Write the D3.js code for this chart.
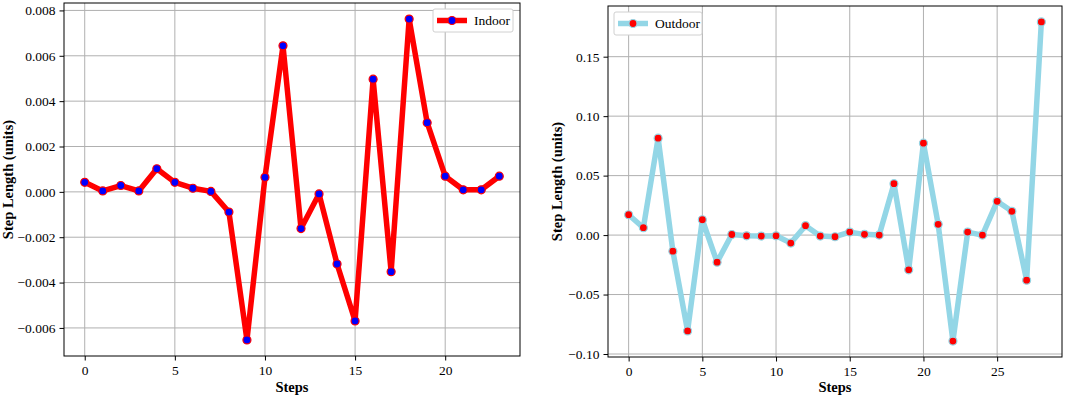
<!DOCTYPE html>
<html>
<head>
<meta charset="utf-8">
<script src="https://cdn.jsdelivr.net/npm/d3@7"></script>
<style>
  body { margin: 0; background: #fff; }
  svg { display: block; font-family: "Liberation Serif", "Times New Roman", serif; }
  .grid line { stroke: #b0b0b0; stroke-width: 1; }
  .axis text { font-size: 13.5px; fill: #000; font-family: "Liberation Serif", serif; }
  .axis path, .axis line { stroke: #000; stroke-width: 1; }
  .axisLabel { font-size: 14.5px; font-weight: bold; fill: #000; }
  .legend-box { fill: #fff; stroke: #d0d0d0; stroke-width: 1; }
  .legend-text { font-size: 13.5px; fill: #000; }
</style>
</head>
<body>
<div id="chart"></div>
<script>
// Step length per step, two panels: Indoor (left) and Outdoor (right)

const indoorSteps  = d3.range(0, 24);
const indoorValues = [0.00042, 0.00004, 0.00028, 0.00004, 0.00102, 0.00042, 0.00016, 0.00002,
                      -0.00089, -0.00653, 0.00064, 0.00644, -0.00162, -0.00009, -0.00318, -0.00569,
                      0.00497, -0.00352, 0.00762, 0.00305, 0.00069, 0.00009, 0.00009, 0.00069];
const indoorYTicks = [-0.006, -0.004, -0.002, 0, 0.002, 0.004, 0.006, 0.008];
const indoorXTicks = [0, 5, 10, 15, 20];

const outdoorSteps  = d3.range(0, 29);
const outdoorValues = [0.0171, 0.0062, 0.0815, -0.0135, -0.0806, 0.0129, -0.0228, 0.0005,
                       -0.0006, -0.0008, -0.0006, -0.0067, 0.0079, -0.0008, -0.0014, 0.0025,
                       0.0006, 0.0, 0.0432, -0.0292, 0.0773, 0.0090, -0.0891, 0.0025,
                       0.0, 0.0284, 0.0200, -0.0379, 0.1792];
const outdoorYTicks = [-0.10, -0.05, 0, 0.05, 0.10, 0.15];
const outdoorXTicks = [0, 5, 10, 15, 20, 25];

const W = 1065, H = 397;

const svg = d3.select("#chart").append("svg")
  .attr("width", W)
  .attr("height", H);

// matplotlib-like 5% padding on each side
function padded(ext) {
  const pad = (ext[1] - ext[0]) * 0.05;
  return [ext[0] - pad, ext[1] + pad];
}

function drawPanel(cfg) {
  const { box, steps, values, xTicks, yTicks, yFmt, lineColor, dotFill, dotStroke, label, legend } = cfg;
  const pw = box.right - box.left, ph = box.bottom - box.top;

  const x = d3.scaleLinear().domain(padded(d3.extent(steps))).range([0, pw]);
  const y = d3.scaleLinear().domain(padded(d3.extent(values))).range([ph, 0]);

  const g = svg.append("g").attr("transform", `translate(${box.left},${box.top})`);

  // Gridlines
  g.append("g").attr("class", "grid")
    .selectAll("line.v").data(xTicks).join("line")
    .attr("x1", d => x(d)).attr("x2", d => x(d))
    .attr("y1", 0).attr("y2", ph);
  g.append("g").attr("class", "grid")
    .selectAll("line.h").data(yTicks).join("line")
    .attr("x1", 0).attr("x2", pw)
    .attr("y1", d => y(d)).attr("y2", d => y(d));

  const pts = steps.map((s, i) => ({ s, v: values[i] }));

  g.append("path")
    .datum(pts)
    .attr("d", d3.line().x(d => x(d.s)).y(d => y(d.v)))
    .style("fill", "none")
    .style("stroke", lineColor)
    .style("stroke-width", 5.5)
    .style("stroke-linejoin", "round")
    .style("stroke-linecap", "round");

  g.selectAll("circle.dot").data(pts).join("circle")
    .attr("class", "dot")
    .attr("cx", d => x(d.s))
    .attr("cy", d => y(d.v))
    .attr("r", 4)
    .style("fill", dotFill)
    .style("stroke", dotStroke)
    .style("stroke-width", 1.2);

  // Frame
  g.append("rect")
    .attr("width", pw).attr("height", ph)
    .style("fill", "none")
    .style("stroke", "#000")
    .style("stroke-width", 1);

  // Axes
  g.append("g").attr("class", "axis")
    .attr("transform", `translate(0,${ph})`)
    .call(d3.axisBottom(x).tickValues(xTicks).tickSize(4.5).tickPadding(5).tickFormat(d3.format("d")))
    .call(a => a.select(".domain").remove());
  g.append("g").attr("class", "axis")
    .call(d3.axisLeft(y).tickValues(yTicks).tickSize(4.5).tickPadding(4).tickFormat(yFmt))
    .call(a => a.select(".domain").remove());

  // Axis labels
  svg.append("text")
    .attr("class", "axisLabel")
    .attr("x", box.left + pw / 2)
    .attr("y", 392)
    .attr("text-anchor", "middle")
    .text("Steps");
  svg.append("text")
    .attr("class", "axisLabel")
    .attr("transform", `translate(${label.x},${box.top + ph / 2}) rotate(-90)`)
    .attr("text-anchor", "middle")
    .text("Step Length (units)");

  // Legend
  const lg = svg.append("g").attr("transform", `translate(${legend.x},${legend.y})`);
  lg.append("rect").attr("class", "legend-box")
    .attr("width", legend.w).attr("height", 23).attr("rx", 2);
  lg.append("line")
    .attr("x1", 4).attr("x2", 34).attr("y1", 11.5).attr("y2", 11.5)
    .style("stroke", lineColor).style("stroke-width", 5.5);
  lg.append("circle")
    .attr("cx", 19).attr("cy", 11.5).attr("r", 4)
    .style("fill", dotFill).style("stroke", dotStroke).style("stroke-width", 1.2);
  lg.append("text").attr("class", "legend-text")
    .attr("x", 41).attr("y", 16)
    .text(legend.text);
}

drawPanel({
  box: { left: 64, top: 3, right: 520, bottom: 356 },
  steps: indoorSteps, values: indoorValues,
  xTicks: indoorXTicks, yTicks: indoorYTicks,
  yFmt: d3.format(".3f"),
  lineColor: "#ff0000", dotFill: "#0000ff", dotStroke: "#ff0000",
  label: { x: 13 },
  legend: { x: 433, y: 9, w: 80, text: "Indoor" }
});

drawPanel({
  box: { left: 608, top: 6, right: 1062, bottom: 357 },
  steps: outdoorSteps, values: outdoorValues,
  xTicks: outdoorXTicks, yTicks: outdoorYTicks,
  yFmt: d3.format(".2f"),
  lineColor: "#93d6e6", dotFill: "#ff0000", dotStroke: "#93d6e6",
  label: { x: 562 },
  legend: { x: 614, y: 12, w: 88, text: "Outdoor" }
});
</script>
</body>
</html>
